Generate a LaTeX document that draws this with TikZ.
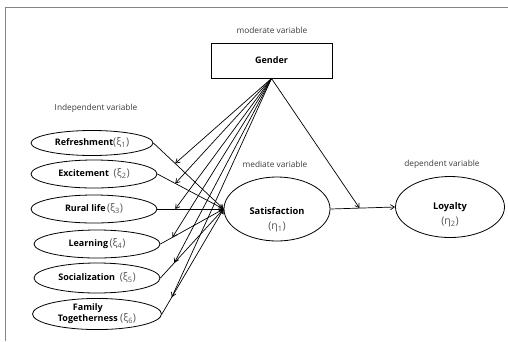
\documentclass[tikz,border=0pt]{standalone}
\usepackage{fontspec}
\setmainfont{Open Sans}
\usetikzlibrary{positioning,arrows.meta,shapes.geometric,calc}
\definecolor{framegray}{HTML}{858585}
\definecolor{labgray}{HTML}{3A3A3A}
\definecolor{subgray}{HTML}{555555}
\newcommand{\gsub}[2]{{\mdseries\fontsize{10.5}{11}\selectfont\color{subgray}(#1\textsubscript{#2})}}

\begin{document}
\begin{tikzpicture}[x=1pt,y=-1pt,
  e/.style={ellipse,draw,line width=0.8pt,minimum width=126pt,minimum height=28pt,inner sep=0pt,
            align=center,font=\bfseries\fontsize{9}{11}\selectfont},
  eb/.style={ellipse,draw,line width=0.8pt,minimum width=106pt,minimum height=62pt,inner sep=0pt},
  t/.style={align=center,font=\bfseries\fontsize{9.3}{15}\selectfont,inner sep=0pt},
  gbox/.style={draw,line width=1pt,minimum width=121pt,minimum height=35pt,
               font=\bfseries\fontsize{9}{10}\selectfont},
  vcap/.style={font=\fontsize{8.3}{9}\selectfont,text=labgray,inner sep=0pt},
  a/.style={-{Straight Barb[length=4pt,width=5pt]},line width=0.7pt}]
\useasboundingbox (0,0) rectangle (508,341);
\draw[framegray,line width=1.7pt] (5.5,341) -- (5.5,7.5) -- (508,7.5);

% moderator
\node[vcap] (modcap) at (272,30) {moderate variable};
\node[gbox] (gen) at (271.5,60.5) {Gender};

% independent variables
\node[vcap] (indcap) at (96,108) {Independent variable};
\node[e,minimum width=122pt,minimum height=25pt] (ref) at (92,143) {Refreshment\gsub{ξ}{1}};
\node[e] (exc) at (94,174) {Excitement\ \ \gsub{ξ}{2}};
\node[e] (rur) at (94,209) {Rural life\,\gsub{ξ}{3}};
\node[e] (lea) at (97,244) {Learning\,\gsub{ξ}{4}};
\node[e,minimum height=30pt] (soc) at (97,278) {Socialization\ \ \gsub{ξ}{5}};
\node[e,minimum width=129pt] (fam) at (97,314)
  {\begin{tabular}[b]{@{}c@{}}Family\\Togetherness\end{tabular}\ \gsub{ξ}{6}};

% mediator and dependent
\node[vcap] (medcap) at (275,164) {mediate variable};
\node[eb,minimum height=64pt] (sat) at (277,209) {};
\node[t] (sattxt) at (277,220) {Satisfaction\\\gsub{η}{1}};
\node[vcap] (depcap) at (442,164) {dependent variable};
\node[eb,minimum width=109pt,minimum height=61pt] (loy) at (450,207) {};
\node[t] (loytxt) at (450,215) {Loyalty\\\gsub{η}{2}};

% paths to satisfaction
\draw[a] (ref.east) -- (sat.west);
\draw[a] (exc.east) -- (sat.west);
\draw[a] (rur.east) -- (sat.west);
\draw[a] (lea.east) -- (sat.west);
\draw[a] (soc.east) -- (sat.west);
\draw[a] (fam.east) -- (sat.west);
\draw[a] (sat.east) -- (loy.west);

% moderating effects
\coordinate (m1) at ($(ref.east)!0.31!(sat.west)$);
\coordinate (m2) at ($(exc.east)!0.27!(sat.west)$);
\coordinate (m3) at ($(rur.east)!0.27!(sat.west)$);
\coordinate (m4) at ($(lea.east)!0.19!(sat.west)$);
\coordinate (m5) at ($(soc.east)!0.22!(sat.west)$);
\coordinate (m6) at ($(fam.east)!0.16!(sat.west)$);
\coordinate (m7) at ($(sat.east)!0.45!(loy.west)$);
\foreach \m in {m1,m2,m3,m4,m5,m6,m7}
  \draw[a] (gen.south) -- (\m);
\end{tikzpicture}
\end{document}
